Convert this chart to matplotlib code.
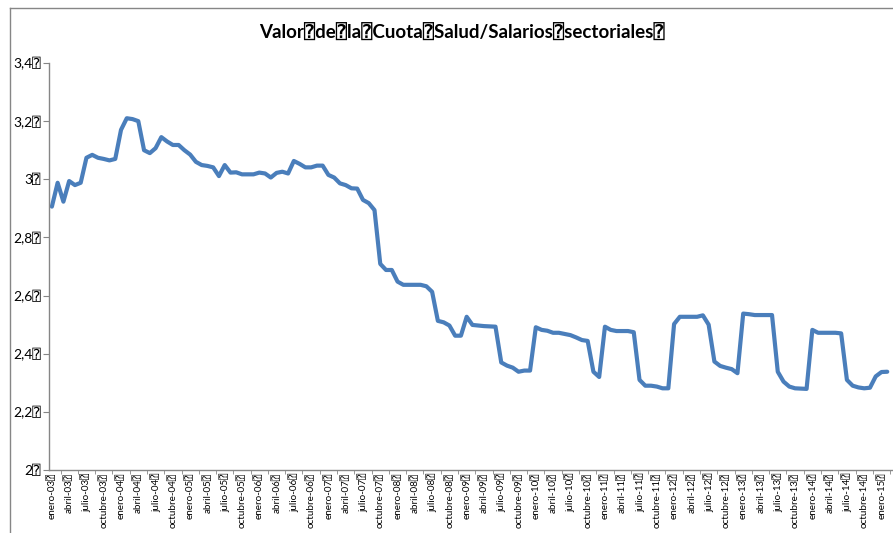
import matplotlib
matplotlib.use("Agg")
import matplotlib.pyplot as plt
import numpy as np

BOX = "\u2370"

values = [
    2.906, 2.988, 2.923, 2.994, 2.980, 2.988, 3.074, 3.084, 3.074, 3.070,
    3.065, 3.070, 3.170, 3.210, 3.207, 3.200, 3.100, 3.090, 3.107, 3.145,
    3.130, 3.118, 3.118, 3.100, 3.085, 3.060, 3.049, 3.046, 3.041, 3.011,
    3.049, 3.023, 3.024, 3.017, 3.017, 3.017, 3.023, 3.020, 3.006, 3.022,
    3.026, 3.020, 3.063, 3.053, 3.041, 3.041, 3.047, 3.047, 3.015, 3.006,
    2.986, 2.980, 2.969, 2.968, 2.929, 2.918, 2.894, 2.709, 2.688, 2.688,
    2.648, 2.637, 2.637, 2.637, 2.637, 2.632, 2.613, 2.513, 2.508, 2.497,
    2.462, 2.462, 2.527, 2.499, 2.497, 2.495, 2.494, 2.493, 2.370, 2.359,
    2.352, 2.338, 2.342, 2.342, 2.491, 2.482, 2.479, 2.472, 2.472, 2.468,
    2.464, 2.456, 2.447, 2.444, 2.338, 2.320, 2.493, 2.482, 2.478, 2.478,
    2.478, 2.474, 2.310, 2.290, 2.290, 2.287, 2.281, 2.281, 2.502, 2.527,
    2.527, 2.527, 2.527, 2.532, 2.500, 2.373, 2.358, 2.352, 2.347, 2.333,
    2.538, 2.536, 2.533, 2.533, 2.533, 2.533, 2.338, 2.304, 2.287, 2.281,
    2.280, 2.279, 2.482, 2.472, 2.472, 2.472, 2.472, 2.470, 2.310, 2.290,
    2.284, 2.281, 2.283, 2.322, 2.337, 2.338,
]

months = ["enero", "abril", "julio", "octubre"]
years = list(range(3, 16))
tick_labels = []
for y in years:
    for m in months:
        tick_labels.append(f"{m}-{y:02d}{BOX}")
tick_labels = tick_labels[:49]

y_ticks = [2.0, 2.2, 2.4, 2.6, 2.8, 3.0, 3.2, 3.4]
y_tick_labels = ["2", "2,2", "2,4", "2,6", "2,8", "3", "3,2", "3,4"]

title = f"Valor{BOX}de{BOX}la{BOX}Cuota{BOX}Salud/Salarios{BOX}sectoriales{BOX}"

fam = ["Lato", "DejaVu Sans", "DejaVu Sans Mono"]

W, H = 893, 533
fig = plt.figure(figsize=(W / 100, H / 100), dpi=100)
fig.patch.set_facecolor("white")

left, right, bottom_px, top_px = 49, 893, 470, 63
ax = fig.add_axes([left / W, (H - bottom_px) / H, (right - left) / W, (bottom_px - top_px) / H])

x = np.arange(len(values))
ax.plot(x, values, color="#4a7ebb", lw=3.0, solid_joinstyle="round", solid_capstyle="round")

ax.set_xlim(-0.5, 146.0)
ax.set_ylim(2.0, 3.4)

ax.set_yticks(y_ticks)
ax.set_yticklabels([l + BOX for l in y_tick_labels], fontsize=10, family=fam)
ax.set_xticks(np.arange(0, 3 * len(tick_labels), 3))
ax.set_xticklabels(tick_labels, rotation=90, fontsize=7.1, family=fam)
ax.set_xticks(np.arange(1.5, 146, 3), minor=True)

for s in ["top", "right"]:
    ax.spines[s].set_visible(False)
for s in ["left", "bottom"]:
    ax.spines[s].set_color("#868686")
    ax.spines[s].set_linewidth(1.0)

ax.tick_params(axis="y", direction="out", length=4, color="#868686", pad=2)
ax.tick_params(axis="x", which="major", length=0, pad=2)
ax.tick_params(axis="x", which="minor", direction="out", length=3, color="#868686")

fig.text(462 / W, 1 - 33 / H, title, ha="center", va="center", fontsize=13.5,
         fontweight="bold", family=fam)

# chart frame border (partially visible)
fig.add_artist(plt.Line2D([10 / W, 10 / W], [0, 1 - 8 / H], transform=fig.transFigure,
                          color="#868686", lw=1))
fig.add_artist(plt.Line2D([10 / W, 1], [1 - 8 / H, 1 - 8 / H], transform=fig.transFigure,
                          color="#868686", lw=1))

fig.savefig("out.png", dpi=100)
